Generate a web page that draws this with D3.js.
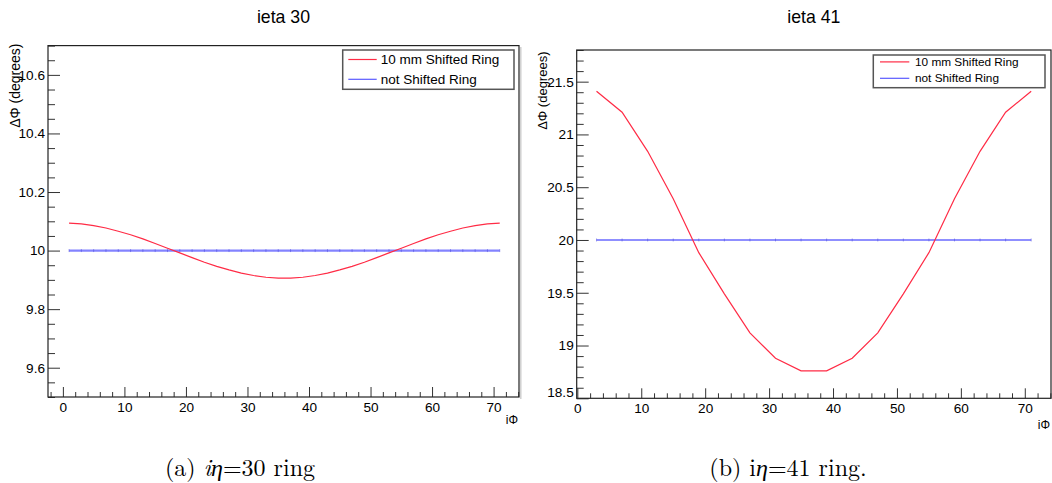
<!DOCTYPE html>
<html>
<head>
<meta charset="utf-8">
<script src="https://cdn.jsdelivr.net/npm/d3@7"></script>
<style>
  body { margin: 0; background: #fff; }
  svg { display: block; }
  text { font-family: "Liberation Sans", Arial, Helvetica, sans-serif; fill: #000; }
  text.caption { font-family: "Latin Modern Roman", "Liberation Serif", "DejaVu Serif", serif; }
</style>
</head>
<body>
<svg id="fig" width="1052" height="483"></svg>
<script>
// iphi positions and delta-phi values (degrees) for the ieta 30 ring
const phiA = [1, 3, 5, 7, 9, 11, 13, 15, 17, 19, 21, 23, 25, 27, 29, 31, 33, 35,
              37, 39, 41, 43, 45, 47, 49, 51, 53, 55, 57, 59, 61, 63, 65, 67, 69, 71];
const shiftedA = [10.094, 10.091, 10.085, 10.077, 10.066, 10.054, 10.040, 10.024, 10.008,
                  9.992, 9.976, 9.960, 9.946, 9.934, 9.923, 9.915, 9.909, 9.906,
                  9.906, 9.909, 9.915, 9.923, 9.934, 9.946, 9.960, 9.976, 9.992,
                  10.008, 10.024, 10.040, 10.054, 10.066, 10.077, 10.085, 10.091, 10.094];
const nominalA = [10, 10, 10, 10, 10, 10, 10, 10, 10, 10, 10, 10, 10, 10, 10, 10, 10, 10,
                  10, 10, 10, 10, 10, 10, 10, 10, 10, 10, 10, 10, 10, 10, 10, 10, 10, 10];

// iphi positions and delta-phi values (degrees) for the ieta 41 ring
const phiB = [3, 7, 11, 15, 19, 23, 27, 31, 35, 39, 43, 47, 51, 55, 59, 63, 67, 71];
const shiftedB = [21.41, 21.21, 20.84, 20.39, 19.88, 19.49, 19.12, 18.88, 18.76,
                  18.76, 18.88, 19.12, 19.49, 19.88, 20.39, 20.84, 21.21, 21.41];
const nominalB = [20, 20, 20, 20, 20, 20, 20, 20, 20, 20, 20, 20, 20, 20, 20, 20, 20, 20];

// axis tick values and labels
const xTicks = [0, 10, 20, 30, 40, 50, 60, 70];
const xTickLabels = ["0", "10", "20", "30", "40", "50", "60", "70"];
const yTicksA = [9.6, 9.8, 10, 10.2, 10.4, 10.6];
const yTickLabelsA = ["9.6", "9.8", "10", "10.2", "10.4", "10.6"];
const yTicksB = [18.5, 19, 19.5, 20, 20.5, 21, 21.5];
const yTickLabelsB = ["18.5", "19", "19.5", "20", "20.5", "21", "21.5"];

const seriesNames = ["10 mm Shifted Ring", "not Shifted Ring"];
const RED = "#ff2b45";
const BLUE = "#5a5aff";

const svg = d3.select("#fig");

// thin grey border of the second sub-figure image
svg.append("line").attr("x1", 520.8).attr("x2", 520.8).attr("y1", 47).attr("y2", 399)
  .attr("stroke", "#cfcfcf").attr("stroke-width", 1.5);

function panel(cfg) {
  const g = svg.append("g");
  const x = d3.scaleLinear().domain(cfg.xDomain).range([cfg.left, cfg.right]);
  const y = d3.scaleLinear().domain(cfg.yDomain).range([cfg.bottom, cfg.top]);

  // minor ticks: every 2 in iphi, finer steps in delta-phi
  const xMinor = d3.range(Math.ceil(cfg.xDomain[0] / 2) * 2, cfg.xDomain[1], 2)
    .filter(v => v % 10 !== 0);
  const yMinor = d3.range(Math.ceil(cfg.yDomain[0] / cfg.yMinorStep - 1e-6), Math.floor(cfg.yDomain[1] / cfg.yMinorStep + 1e-6) + 1)
    .map(i => +(i * cfg.yMinorStep).toFixed(4))
    .filter(v => !cfg.yTicks.some(t => Math.abs(t - v) < 1e-6));

  g.append("g").attr("transform", `translate(0,${cfg.bottom})`)
    .call(d3.axisBottom(x).tickValues(xMinor).tickSize(-5).tickFormat("").tickSizeOuter(0))
    .call(s => s.select(".domain").remove());
  g.append("g").attr("transform", `translate(${cfg.left},0)`)
    .call(d3.axisLeft(y).tickValues(yMinor).tickSize(-7).tickFormat("").tickSizeOuter(0))
    .call(s => s.select(".domain").remove());

  const xa = g.append("g").attr("transform", `translate(0,${cfg.bottom})`)
    .call(d3.axisBottom(x).tickValues(xTicks).tickSize(-10).tickSizeOuter(0).tickPadding(5)
      .tickFormat((d, i) => xTickLabels[i]));
  xa.select(".domain").remove();
  xa.selectAll("text").attr("font-size", cfg.tickFont).attr("dy", "0.71em").attr("y", 5.5)
    .style("font-family", '"Liberation Sans", Arial, sans-serif');

  const ya = g.append("g").attr("transform", `translate(${cfg.left},0)`)
    .call(d3.axisLeft(y).tickValues(cfg.yTicks).tickSize(-12).tickSizeOuter(0).tickPadding(3)
      .tickFormat((d, i) => cfg.yTickLabels[i]));
  ya.select(".domain").remove();
  ya.selectAll("text").attr("font-size", cfg.tickFont).attr("x", -3)
    .style("font-family", '"Liberation Sans", Arial, sans-serif');
  if (cfg.liftBottomLabel) {
    ya.selectAll(".tick").filter(d => d === cfg.yDomain[0]).select("text").attr("dy", "-0.15em");
  }
  g.selectAll(".tick line").attr("stroke", "#333").attr("stroke-width", 1);

  // frame
  g.append("rect").attr("x", cfg.left).attr("y", cfg.top)
    .attr("width", cfg.right - cfg.left).attr("height", cfg.bottom - cfg.top)
    .attr("fill", "none").attr("stroke", "#222").attr("stroke-width", 1.2);

  // series
  const line = d3.line().x(d => x(d[0])).y(d => y(d[1]));
  g.append("path").datum(cfg.phi.map((p, i) => [p, cfg.nominal[i]]))
    .attr("d", line).attr("fill", "none").attr("stroke", BLUE)
    .attr("stroke-width", cfg.blueWidth).attr("stroke-opacity", cfg.blueOpacity);
  g.selectAll(".mk").data(cfg.phi.map((p, i) => [p, cfg.nominal[i]])).enter()
    .append("line")
    .attr("x1", d => x(d[0])).attr("x2", d => x(d[0]))
    .attr("y1", d => y(d[1]) - 1.5).attr("y2", d => y(d[1]) + 1.5)
    .attr("stroke", "#4646d8").attr("stroke-opacity", 0.6).attr("stroke-width", 0.8);
  g.append("path").datum(cfg.phi.map((p, i) => [p, cfg.shifted[i]]))
    .attr("d", line).attr("fill", "none").attr("stroke", RED).attr("stroke-width", 1.2);

  // titles
  g.append("text").attr("x", (cfg.left + cfg.right) / 2).attr("y", 23)
    .attr("text-anchor", "middle").attr("font-size", 17.7).text(cfg.title);
  g.append("text").attr("transform", `translate(${cfg.yTitleX},${cfg.yTitleTop}) rotate(-90)`)
    .attr("text-anchor", "end").attr("font-size", cfg.yTitleFont).text("\u0394\u03A6 (degrees)");
  g.append("text").attr("x", cfg.right - 1).attr("y", cfg.xTitleY)
    .attr("text-anchor", "end").attr("font-size", 12).text("i\u03A6");

  // legend
  const L = cfg.legend;
  g.append("rect").attr("x", L.x0).attr("y", L.y0).attr("width", L.x1 - L.x0).attr("height", L.y1 - L.y0)
    .attr("fill", "#fff").attr("stroke", "#555").attr("stroke-width", 1.5);
  [RED, BLUE].forEach((c, i) => {
    const yy = L.rows[i];
    g.append("line").attr("x1", L.lx0).attr("x2", L.lx1).attr("y1", yy).attr("y2", yy)
      .attr("stroke", c).attr("stroke-width", 1.2);
    g.append("text").attr("x", L.tx).attr("y", yy).attr("dy", "0.35em")
      .attr("font-size", L.font).text(seriesNames[i]);
  });
}

panel({
  left: 48, right: 519, top: 45.6, bottom: 397,
  xDomain: [-2.42, 74.13], yDomain: [9.5, 10.7], yMinorStep: 0.05,
  yTicks: yTicksA, yTickLabels: yTickLabelsA, tickFont: 13.6,
  phi: phiA, shifted: shiftedA, nominal: nominalA,
  blueWidth: 2.4, blueOpacity: 0.75,
  title: "ieta 30", yTitleX: 20, yTitleTop: 43.5, yTitleFont: 14, xTitleY: 424,
  legend: { x0: 342.7, x1: 514, y0: 50, y1: 89.3, lx0: 348.3, lx1: 376.7, tx: 380.7, rows: [59.5, 79.3], font: 13.5 }
});

panel({
  left: 576.7, right: 1051, top: 50, bottom: 398.3,
  xDomain: [-0.1, 74.1], yDomain: [18.5, 21.8], yMinorStep: 0.1,
  yTicks: yTicksB, yTickLabels: yTickLabelsB, tickFont: 13.6, liftBottomLabel: true,
  phi: phiB, shifted: shiftedB, nominal: nominalB,
  blueWidth: 1.6, blueOpacity: 0.9,
  title: "ieta 41", yTitleX: 547, yTitleTop: 51.5, yTitleFont: 13, xTitleY: 429,
  legend: { x0: 873.3, x1: 1045, y0: 55, y1: 87.7, lx0: 880, lx1: 909.3, tx: 915, rows: [61.9, 78.3], font: 11.8 }
});

// sub-figure captions
function caption(cx, parts) {
  const t = svg.append("text").attr("class", "caption").attr("x", cx).attr("y", 476)
    .attr("text-anchor", "middle").attr("font-size", 24);
  parts.forEach(p => {
    const s = t.append("tspan").text(p.text);
    if (p.italic) s.attr("font-style", "italic");
  });
}
caption(240, [{ text: "(a)  " }, { text: "i\u03B7", italic: true }, { text: "=30  ring" }]);
caption(788, [{ text: "(b)  i" }, { text: "\u03B7", italic: true }, { text: "=41  ring." }]);
</script>
</body>
</html>
